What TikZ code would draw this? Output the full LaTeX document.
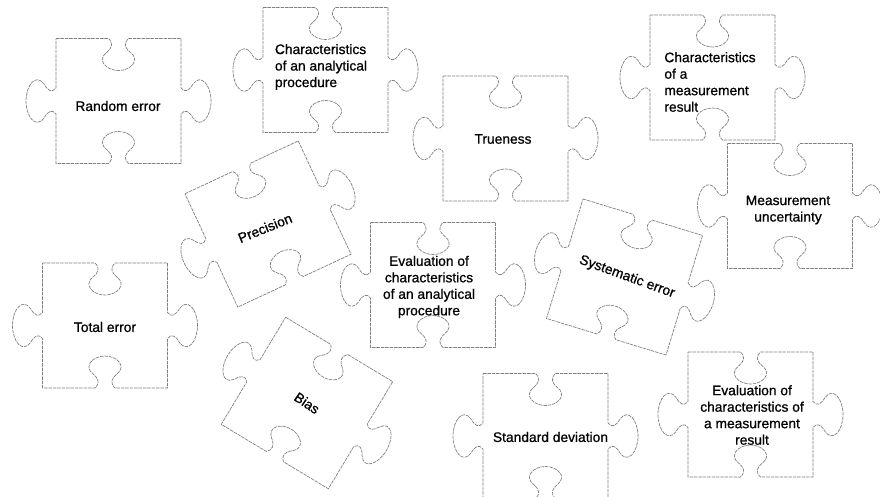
\documentclass[tikz,border=0pt]{standalone}
\usepackage{fontspec}
\setmainfont{Liberation Sans}
\newfontfamily\lblfont{Liberation Sans}[FakeBold=0.8]
\tikzset{
  jigline/.style={draw=black!50, line width=0.7pt, dash pattern=on 3.5pt off 0.9pt},
  lbl/.style={font=\lblfont\fontsize{13.8}{16.5}\selectfont, align=center, inner sep=0pt, text=black},
  lbll/.style={lbl, align=left},
  jig/.pic={
    \draw[jigline] (-62.5,-62.5) -- (-10,-62.5)
      .. controls (-5,-57.5) and (-6,-53.5) .. (-12,-48.5)
      .. controls (-22,-40.5) and (-12,-30.5) .. (0,-30.5)
      .. controls (12,-30.5) and (22,-40.5) .. (12,-48.5)
      .. controls (6,-53.5) and (5,-57.5) .. (10,-62.5)
      -- (62.5,-62.5) -- (62.5,-13)
      .. controls (66.5,-8) and (70.5,-10) .. (74.5,-17)
      .. controls (82.5,-28) and (92.5,-16) .. (92.5,0)
      .. controls (92.5,16) and (82.5,28) .. (74.5,17)
      .. controls (70.5,10) and (66.5,8) .. (62.5,13)
      -- (62.5,62.5) -- (10,62.5)
      .. controls (5,57.5) and (6,53.5) .. (12,48.5)
      .. controls (22,40.5) and (12,30.5) .. (0,30.5)
      .. controls (-12,30.5) and (-22,40.5) .. (-12,48.5)
      .. controls (-6,53.5) and (-5,57.5) .. (-10,62.5)
      -- (-62.5,62.5) -- (-62.5,13)
      .. controls (-66.5,8) and (-70.5,10) .. (-74.5,17)
      .. controls (-82.5,28) and (-92.5,16) .. (-92.5,0)
      .. controls (-92.5,-16) and (-82.5,-28) .. (-74.5,-17)
      .. controls (-70.5,-10) and (-66.5,-8) .. (-62.5,-13)
      -- cycle;
  }
}
\begin{document}
\begin{tikzpicture}[x=1pt,y=-1pt]
\useasboundingbox (0,0) rectangle (880,496);
\clip (0,0) rectangle (880,496);
% pieces
\pic at (118.5,101) {jig};
\pic at (325.5,70) {jig};
\pic at (505.5,138.5) {jig};
\pic at (712.5,77.5) {jig};
\pic at (790,206) {jig};
\pic[rotate=25] at (268,224) {jig};
\pic at (433,285) {jig};
\pic[rotate=-17] at (624.5,277) {jig};
\pic at (105,325.5) {jig};
\pic[rotate=-31] at (307,403) {jig};
\pic at (545.5,436) {jig};
\pic at (750.5,414.5) {jig};
% labels
\node[lbl] (random) at (118,106) {Random error};
\node[lbll] (charap) at (321,67) {Characteristics\\of an analytical\\procedure};
\node[lbl] (trueness) at (503,139) {Trueness};
\node[lbll] (charmr) at (710,82) {Characteristics\\of a\\measurement\\result};
\node[lbl] (mu) at (788,210) {Measurement\\uncertainty};
\node[lbl, rotate=22] (precision) at (265,228) {Precision};
\node[lbl] (evalap) at (429,287) {Evaluation of\\characteristics\\of an analytical\\procedure};
\node[lbl, rotate=-20] (syserr) at (627,277) {Systematic error};
\node[lbl] (total) at (105,327) {Total error};
\node[lbl, rotate=-34] (bias) at (307,403) {Bias};
\node[lbl] (sd) at (550.5,437) {Standard deviation};
\node[lbl] (evalmr) at (752,415) {Evaluation of\\characteristics of\\a measurement\\result};
\end{tikzpicture}
\end{document}
